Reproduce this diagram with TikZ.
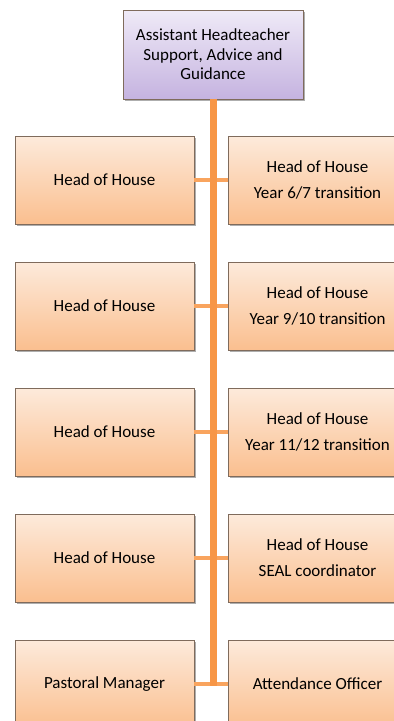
\documentclass[tikz,border=0pt]{standalone}
\usepackage{fontspec}
\setmainfont{Carlito}
\usepackage{tikz}
\usetikzlibrary{positioning, shadows}
\definecolor{trunkorange}{HTML}{F79646}
\definecolor{branchorange}{HTML}{F9A45E}
\definecolor{peachtop}{HTML}{FDEADB}
\definecolor{peachbottom}{HTML}{FABF8F}
\definecolor{lilactop}{HTML}{EFEAF7}
\definecolor{lilacbottom}{HTML}{C5B3E0}
\definecolor{boxedge}{HTML}{7F6B5C}

\begin{document}
\begin{tikzpicture}[x=1pt, y=-1pt,
		staffbox/.style={draw=boxedge, line width=0.8pt, top color=peachtop, bottom color=peachbottom,
			minimum width=179pt, minimum height=88pt, align=center, inner sep=2pt,
			font=\fontsize{17}{19.5}\selectfont,
			drop shadow={shadow xshift=1.5pt, shadow yshift=-2pt, opacity=0.45, fill=black!70}},
		headbox/.style={staffbox, top color=lilactop, bottom color=lilacbottom,
			minimum width=180pt, minimum height=89pt},
		trunk/.style={draw=trunkorange, line width=7pt},
		branch/.style={draw=branchorange, line width=4pt}]
		\useasboundingbox (0, 0) rectangle (394, 721);
		
		% Head of the team
		\node[headbox] (aht) at (213, 54.5) {Assistant Headteacher\\Support, Advice and\\Guidance};
		
		% Left column
		\node[staffbox] (l1) at (104.5, 180) {Head of House};
		\node[staffbox] (l2) at (104.5, 306) {Head of House};
		\node[staffbox] (l3) at (104.5, 432) {Head of House};
		\node[staffbox] (l4) at (104.5, 558) {Head of House};
		\node[staffbox] (l5) at (104.5, 684) {Pastoral Manager};
		
		% Right column
		\node[staffbox] (r1) at (317.5, 180) {Head of House\\[6.5pt]Year 6/7 transition};
		\node[staffbox] (r2) at (317.5, 306) {Head of House\\[6.5pt]Year 9/10 transition};
		\node[staffbox] (r3) at (317.5, 432) {Head of House\\[6.5pt]Year 11/12 transition};
		\node[staffbox] (r4) at (317.5, 558) {Head of House\\[6.5pt]SEAL coordinator};
		\node[staffbox] (r5) at (317.5, 684) {Attendance Officer};
		
		% Branches between the columns
		\foreach \i in {1,...,5}
		\draw[branch] (l\i.east) -- (r\i.west);
		
		% Trunk down from the head
		\coordinate (foot) at (aht.south |- l5.east);
		\draw[trunk] (aht.south) -- ([yshift=-2pt]foot);
	\end{tikzpicture}
\end{document}
